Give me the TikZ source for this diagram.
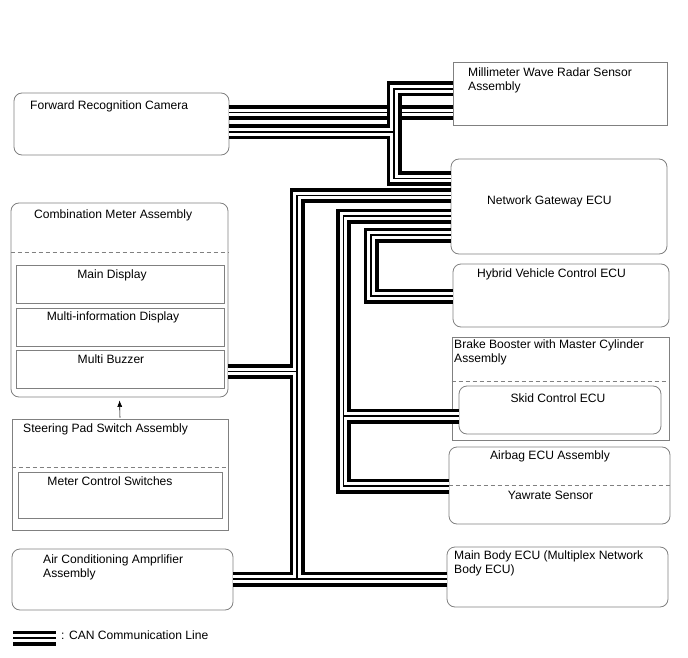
\documentclass[tikz,border=0pt]{standalone}
\usepackage{fontspec}
\setmainfont{Liberation Sans}
\usepackage{tikz}
\usetikzlibrary{arrows.meta, calc}

\definecolor{boxgray}{RGB}{128,128,128}

% one CAN bus = thick black pair with a thin core
\newcommand{\canlines}[1]{%
  \draw[can_outer] #1;
  \draw[can_gap] #1;
  \draw[can_core] #1;}

\begin{document}
\begin{tikzpicture}[x=1pt, y=-1pt,
                    box_r/.style={draw=boxgray, line width=0.8pt, rounded corners=8pt, inner sep=0pt},
                    box_s/.style={draw=boxgray, line width=0.8pt, inner sep=0pt},
                    sep_line/.style={draw=boxgray, line width=0.7pt, dash pattern=on 4pt off 3pt},
                    lbl/.style={font=\fontsize{12.1}{13.8}\selectfont, inner sep=0pt, anchor=west, align=left},
                    lbl_c/.style={lbl, anchor=center, align=center},
                    can_outer/.style={line width=15pt, black},
                    can_gap/.style={line width=7.6pt, white},
                    can_core/.style={line width=1.1pt, black},
                    arr/.style={-{Latex[length=6.5pt, width=5pt]}, line width=0.6pt, shorten >=3pt, shorten <=1pt}]

    \useasboundingbox (0,0) rectangle (688,658);

    % boxes on the left
    \node[box_r, minimum width=215pt, minimum height=62pt]  (cam)   at (121.5,124) {};
    \node[box_r, minimum width=217pt, minimum height=194pt] (comb)  at (119.5,300) {};
    \node[box_s, minimum width=208pt, minimum height=38pt]  (md)    at (120,284) {};
    \node[box_s, minimum width=208pt, minimum height=38pt]  (mi)    at (120,327) {};
    \node[box_s, minimum width=208pt, minimum height=38pt]  (mbz)   at (120,369) {};
    \node[box_s, minimum width=216pt, minimum height=111pt] (steer) at (120,474.5) {};
    \node[box_s, minimum width=204pt, minimum height=46pt]  (mcs)   at (120,495) {};
    \node[box_r, minimum width=221pt, minimum height=61pt]  (ac)    at (122.5,579.5) {};

    % boxes on the right
    \node[box_s, minimum width=214pt, minimum height=63pt]  (radar)  at (560,93.5) {};
    \node[box_r, minimum width=216pt, minimum height=95pt]  (gw)     at (559,206.5) {};
    \node[box_r, minimum width=216pt, minimum height=63pt]  (hyb)    at (561,295.5) {};
    \node[box_s, minimum width=217pt, minimum height=103pt] (brake)  at (560.5,388.5) {};
    \node[box_r, minimum width=202pt, minimum height=48pt]  (skid)   at (560,410) {};
    \node[box_r, minimum width=221pt, minimum height=77pt]  (airbag) at (559.5,485.5) {};
    \node[box_r, minimum width=221pt, minimum height=60pt]  (mb)     at (557.5,577) {};

    \draw[sep_line] (comb.west |- 0,252) -- (comb.east |- 0,252);
    \draw[sep_line] (steer.west |- 0,467) -- (steer.east |- 0,467);
    \draw[sep_line] (brake.west |- 0,381) -- (brake.east |- 0,381);
    \draw[sep_line] (airbag.west |- 0,485) -- (airbag.east |- 0,485);

    % texts
    \node[lbl] (camT)   at (30,106)    {Forward Recognition Camera};
    \node[lbl] (combT)  at (34,215)    {Combination Meter Assembly};
    \node[lbl_c] (mdT)  at (112,275)   {Main Display};
    \node[lbl_c] (miT)  at (113,317)   {Multi-information Display};
    \node[lbl_c] (mbzT) at (111,359)   {Multi Buzzer};
    \node[lbl] (steerT) at (23,429)    {Steering Pad Switch Assembly};
    \node[lbl_c] (mcsT) at (110,481)   {Meter Control Switches};
    \node[lbl] (acT)    at (43,567.5)  {Air Conditioning Amprlifier\\Assembly};
    \node[lbl] (radarT) at (468,80.5)  {Millimeter Wave Radar Sensor\\Assembly};
    \node[lbl] (gwT)    at (487,201)   {Network Gateway ECU};
    \node[lbl] (hybT)   at (477,274)   {Hybrid Vehicle Control ECU};
    \node[lbl] (brakeT) at (454,352.5) {Brake Booster with Master Cylinder\\Assembly};
    \node[lbl_c] (skidT) at (558,398)  {Skid Control ECU};
    \node[lbl_c] (abT)  at (550,456)   {Airbag ECU Assembly};
    \node[lbl_c] (yawT) at (550.5,495) {Yawrate Sensor};
    \node[lbl] (mbT)    at (454,563.5) {Main Body ECU (Multiplex Network\\Body ECU)};

    \draw[arr] (steer.north) -- (comb.south);

    % bend points of the buses
    \coordinate (kB1) at (394,89);
    \coordinate (kB2) at (394,178.5);
    \coordinate (kC)  at (394,132);
    \coordinate (kE1) at (297,195.5);
    \coordinate (kE2) at (297,579);
    \coordinate (kE3) at (297,371.5);
    \coordinate (kF1) at (343.5,216);
    \coordinate (kF2) at (343.5,486);
    \coordinate (kF3) at (343.5,416);
    \coordinate (kG1) at (371,235);
    \coordinate (kG2) at (371,296);

    % camera - radar, passes under the other bus
    \canlines{(cam.east |- 0,112.5) -- (radar.west |- 0,112.5)}

    \canlines{(radar.west |- kB1) -- (kB1) -- (kB2) -- (gw.west |- kB2)
              (cam.east |- kC) -- (kC)
              (gw.west |- kE1) -- (kE1) -- (kE2)
              (comb.east |- kE3) -- (kE3)
              (ac.east |- kE2) -- (mb.west |- kE2)
              (gw.west |- kF1) -- (kF1) -- (kF2) -- (airbag.west |- kF2)
              (kF3) -- (skid.west |- kF3)
              (gw.west |- kG1) -- (kG1) -- (kG2) -- (hyb.west |- kG2)}

    % legend
    \coordinate (legA) at (13,638);
    \coordinate (legB) at (56,638);
    \canlines{(legA) -- (legB)}
    \node[lbl] (legT) at (61,635) {: CAN Communication Line};
\end{tikzpicture}
\end{document}
